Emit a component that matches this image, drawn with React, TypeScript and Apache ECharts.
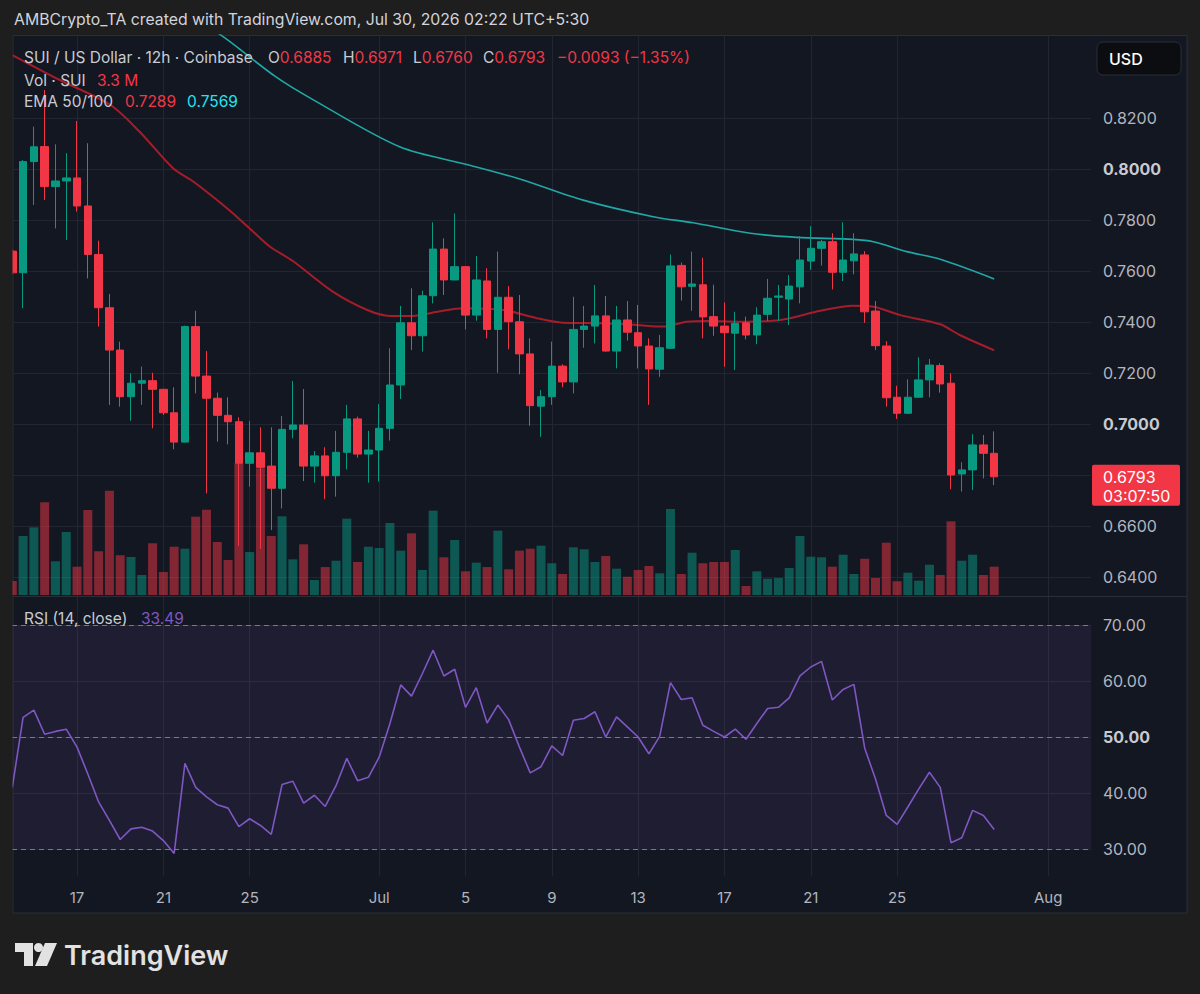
import React, { useEffect, useRef } from "react";
import * as echarts from "echarts";

// ---- Data (12h bars, Jun 14 05:30 → Jul 29 17:30, UTC+5:30) ----
const OPEN = [
  0.7678, 0.7593, 0.8029, 0.8088, 0.7931, 0.7953, 0.7965, 0.7855, 0.7665, 0.7456,
  0.729, 0.7107, 0.716, 0.717, 0.7136, 0.7044, 0.6929, 0.7382, 0.7188, 0.7101,
  0.7034, 0.7009, 0.6846, 0.6887, 0.6835, 0.6748, 0.6979, 0.6996, 0.6835, 0.6875,
  0.6797, 0.6889, 0.702, 0.6882, 0.6898, 0.6983, 0.7153, 0.7397, 0.7346, 0.7503,
  0.7686, 0.7565, 0.7617, 0.7427, 0.7561, 0.7371, 0.7497, 0.7401, 0.7275, 0.707,
  0.7107, 0.7227, 0.7165, 0.7371, 0.7384, 0.7424, 0.7286, 0.7408, 0.7358, 0.7306,
  0.7215, 0.7297, 0.7622, 0.754, 0.7546, 0.7421, 0.7384, 0.7356, 0.7397, 0.7349,
  0.743, 0.7497, 0.749, 0.7538, 0.7639, 0.7689, 0.7715, 0.7595, 0.764, 0.7663,
  0.7443, 0.7306, 0.7105, 0.7042, 0.7105, 0.7173, 0.7229, 0.716, 0.6804, 0.682,
  0.6918, 0.6885,
];
const CLOSE = [
  0.7593, 0.8029, 0.8087, 0.7931, 0.7953, 0.7965, 0.7855, 0.7665, 0.7456, 0.729,
  0.7107, 0.716, 0.717, 0.7136, 0.7044, 0.6929, 0.7382, 0.7188, 0.7101, 0.7034,
  0.7009, 0.6846, 0.6887, 0.683, 0.6748, 0.6979, 0.6996, 0.6835, 0.6875, 0.6797,
  0.6889, 0.702, 0.6882, 0.6898, 0.6983, 0.7153, 0.7397, 0.7346, 0.7503, 0.7686,
  0.7565, 0.7617, 0.7427, 0.7565, 0.7371, 0.7497, 0.7401, 0.7275, 0.7072, 0.7107,
  0.7227, 0.7165, 0.7371, 0.7384, 0.7424, 0.7286, 0.7408, 0.736, 0.7306, 0.7216,
  0.7299, 0.762, 0.7538, 0.7549, 0.742, 0.7384, 0.7358, 0.7395, 0.7349, 0.7427,
  0.7493, 0.7502, 0.7541, 0.7643, 0.7689, 0.7715, 0.7595, 0.7643, 0.7667, 0.744,
  0.7307, 0.7103, 0.7042, 0.7105, 0.7173, 0.7231, 0.7157, 0.68, 0.682, 0.6918,
  0.6885, 0.6793,
];
const LOW = [
  0.7588, 0.7454, 0.7859, 0.7878, 0.7767, 0.7722, 0.7833, 0.7571, 0.7382, 0.7075,
  0.7068, 0.7013, 0.7075, 0.6983, 0.7035, 0.6901, 0.6927, 0.712, 0.6728, 0.6931,
  0.692, 0.6522, 0.6754, 0.651, 0.6584, 0.6669, 0.6944, 0.6776, 0.677, 0.6705,
  0.6715, 0.6822, 0.6868, 0.677, 0.6774, 0.6935, 0.7098, 0.729, 0.7284, 0.7473,
  0.7506, 0.7563, 0.7371, 0.7405, 0.7336, 0.7201, 0.7293, 0.7195, 0.6993, 0.695,
  0.7075, 0.7144, 0.712, 0.7299, 0.7316, 0.7284, 0.7218, 0.7327, 0.7218, 0.7075,
  0.7185, 0.7294, 0.7484, 0.7444, 0.7336, 0.7346, 0.7225, 0.7212, 0.7332, 0.7313,
  0.7404, 0.7404, 0.7388, 0.7473, 0.7604, 0.7621, 0.7528, 0.7561, 0.7587, 0.7397,
  0.729, 0.7068, 0.702, 0.7039, 0.7103, 0.7105, 0.7123, 0.6744, 0.6735, 0.6741,
  0.6787, 0.676,
];
const HIGH = [
  0.7684, 0.8035, 0.8166, 0.831, 0.8097, 0.8062, 0.8188, 0.8101, 0.7719, 0.751,
  0.7323, 0.7199, 0.7225, 0.7201, 0.7138, 0.7144, 0.7386, 0.7444, 0.7286, 0.7123,
  0.7105, 0.7026, 0.7012, 0.6987, 0.6987, 0.7031, 0.7169, 0.7137, 0.6894, 0.6909,
  0.6973, 0.7075, 0.7029, 0.6973, 0.7078, 0.7297, 0.7463, 0.7532, 0.7523, 0.7791,
  0.7728, 0.7826, 0.7619, 0.7659, 0.7611, 0.7676, 0.7541, 0.7506, 0.7336, 0.7133,
  0.7323, 0.7234, 0.7499, 0.7463, 0.7545, 0.7502, 0.7463, 0.7482, 0.7467, 0.7336,
  0.7349, 0.7665, 0.7633, 0.7676, 0.7652, 0.7546, 0.7477, 0.744, 0.7421, 0.7458,
  0.7569, 0.7545, 0.7584, 0.7737, 0.7776, 0.7722, 0.7748, 0.7791, 0.7748, 0.7678,
  0.7482, 0.7325, 0.715, 0.7175, 0.7262, 0.7255, 0.7238, 0.7199, 0.685, 0.696,
  0.6957, 0.6971,
];
// Volume in millions of SUI
const VOLUME_M = [
  1.63, 6.88, 7.89, 10.81, 3.93, 7.35, 3.3, 9.91, 5.1, 12.16,
  4.63, 4.43, 2.33, 6.03, 2.68, 5.63, 5.4, 9.13, 9.95, 6.18,
  4.08, 15.36, 5.01, 14.77, 6.88, 9.18, 4.16, 5.91, 1.75, 3.26,
  4.0, 8.9, 3.85, 5.63, 5.48, 8.4, 5.17, 7.19, 2.92, 9.83,
  4.4, 6.41, 2.76, 3.77, 3.26, 7.5, 3.0, 5.17, 5.4, 5.75,
  3.7, 2.45, 5.56, 5.33, 3.85, 4.55, 3.07, 2.13, 2.92, 3.38,
  2.53, 10.03, 2.45, 4.93, 3.7, 3.85, 3.85, 5.25, 1.05, 2.76,
  1.9, 1.98, 3.15, 6.88, 4.47, 4.4, 3.3, 4.7, 2.45, 4.23,
  1.98, 6.1, 1.6, 2.6, 1.67, 3.53, 2.33, 8.59, 4.0, 4.7,
  2.33, 3.3,
];
const RSI = [
  41.0, 53.5, 54.8, 50.5, 51.0, 51.4, 48.2, 43.4, 38.4, 35.1,
  31.7, 33.6, 33.9, 33.2, 31.5, 29.2, 45.3, 41.0, 39.3, 37.9,
  37.3, 34.0, 35.4, 34.2, 32.6, 41.5, 42.1, 38.2, 39.6, 37.6,
  41.3, 46.2, 42.2, 42.8, 46.4, 52.4, 59.3, 57.3, 61.3, 65.5,
  60.9, 62.1, 55.3, 58.8, 52.5, 55.7, 53.1, 48.2, 43.6, 44.7,
  48.4, 46.7, 53.0, 53.3, 54.5, 50.0, 53.6, 51.8, 50.0, 47.0,
  50.1, 59.7, 56.7, 57.0, 52.1, 51.0, 50.0, 51.4, 49.6, 52.4,
  55.1, 55.3, 57.0, 60.9, 62.5, 63.5, 56.6, 58.5, 59.4, 48.0,
  42.5, 36.0, 34.4, 37.5, 40.7, 43.7, 41.0, 31.1, 32.0, 36.9,
  36.0, 33.49,
];
// EMA read points: [bar index, price]
const EMA50_PTS = [
  [0, 0.8447], [4.4, 0.8349], [9.1, 0.8251], [11.8, 0.8146], [14.9, 0.8003],
  [16.8, 0.795], [19.9, 0.7846], [22.0, 0.7767], [23.9, 0.7695], [26.0, 0.7639],
  [29.7, 0.7519], [32.9, 0.7447], [35.0, 0.7424], [37.1, 0.7424], [39.4, 0.744],
  [41.8, 0.7454], [45.5, 0.7447], [48.6, 0.7415], [51.0, 0.7397], [54.7, 0.7395],
  [57.9, 0.7388], [60.3, 0.7382], [62.5, 0.7401], [64.4, 0.7404], [67.4, 0.7401],
  [71.2, 0.7408], [74.9, 0.7444], [77.9, 0.7464], [79.8, 0.746], [82.3, 0.7427],
  [86.0, 0.7391], [87.8, 0.7349], [91, 0.7289],
];
const EMA100_PTS = [
  [0, 0.909], [10, 0.88], [19.7, 0.8514], [24.4, 0.8362], [27.9, 0.8271],
  [35.9, 0.8087], [42.4, 0.8015], [47.1, 0.796], [52.9, 0.7878], [59.4, 0.7813],
  [63.1, 0.7789], [68.4, 0.7748], [72.7, 0.7732], [77.9, 0.7724], [79.8, 0.7715],
  [82.9, 0.7676], [86.0, 0.7646], [91, 0.7569],
];
const DAY_TICKS = [6, 14, 22, 34, 42, 50, 58, 66, 74, 82, 96];
const DAY_LABELS = ["17", "21", "25", "Jul", "5", "9", "13", "17", "21", "25", "Aug"];
const PRICE_TICKS = [0.64, 0.66, 0.68, 0.7, 0.72, 0.74, 0.76, 0.78, 0.8, 0.82];
const RSI_TICKS = [30, 40, 50, 60, 70];
const LAST_CLOSE = 0.6793;

// ---- Styling ----
const FONT = 'Inter, "Noto Sans", sans-serif';
const OUTER_BG = "#1e1e1e";
const PANEL_BG = "#131722";
const GRID_LINE = "#232632";
const AXIS_TEXT = "#b2b5be";
const LEGEND_TEXT = "#c9cbd1";
const UP = "#089981";
const DOWN = "#f23645";
const X_MIN = -0.028;
const X_MAX = 99.972;
const PRICE_MIN = 0.63255;
const PRICE_MAX = 0.85255;

function xAxisFor(gridIndex: number, withLabels: boolean, visible = true) {
  return {
    type: "value",
    gridIndex,
    min: X_MIN,
    max: X_MAX,
    show: visible,
    axisLine: { show: false },
    axisTick: { show: false, customValues: DAY_TICKS },
    axisLabel: withLabels
      ? {
          show: true,
          customValues: DAY_TICKS,
          margin: 14,
          color: AXIS_TEXT,
          fontSize: 15,
          fontFamily: FONT,
          formatter: (v: number) => {
            const k = DAY_TICKS.indexOf(Math.round(v));
            return k >= 0 ? DAY_LABELS[k] : "";
          },
        }
      : { show: false },
    splitLine: { show: visible, lineStyle: { color: GRID_LINE, width: 1 } },
  };
}

function buildOption() {
  const candleData = OPEN.map((o, i) => [i, o, CLOSE[i], LOW[i], HIGH[i]]);
  const volData = VOLUME_M.map((v, i) => ({
    value: [i, v],
    itemStyle: {
      color: CLOSE[i] >= OPEN[i] ? "rgba(8,153,129,0.5)" : "rgba(242,54,69,0.5)",
    },
  }));
  return {
    animation: false,
    backgroundColor: OUTER_BG,
    textStyle: { fontFamily: FONT },
    grid: [
      { left: 12, top: 35, width: 1079, height: 561, outerBoundsMode: "none" },
      { left: 12, top: 395, width: 1079, height: 200, outerBoundsMode: "none" },
      { left: 12, top: 597, width: 1079, height: 279, outerBoundsMode: "none" },
    ],
    xAxis: [xAxisFor(0, false), xAxisFor(1, false, false), xAxisFor(2, true)],
    yAxis: [
      {
        type: "value",
        gridIndex: 0,
        position: "right",
        min: PRICE_MIN,
        max: PRICE_MAX,
        axisLine: { show: false },
        axisTick: { show: false, customValues: PRICE_TICKS },
        splitLine: { show: true, lineStyle: { color: GRID_LINE, width: 1 } },
        axisLabel: {
          customValues: PRICE_TICKS,
          margin: 12,
          fontSize: 16,
          color: AXIS_TEXT,
          fontFamily: FONT,
          formatter: (v: number) => {
            const bold = Math.abs(v - 0.8) < 1e-6 || Math.abs(v - 0.7) < 1e-6;
            return bold ? `{b|${v.toFixed(4)}}` : `{n|${v.toFixed(4)}}`;
          },
          rich: {
            b: { fontWeight: "bold", fontSize: 16, color: "#c8cad0", fontFamily: FONT },
            n: { fontSize: 16, color: AXIS_TEXT, fontFamily: FONT },
          },
        },
      },
      {
        type: "value",
        gridIndex: 1,
        min: 0,
        max: 23.32,
        show: false,
        splitLine: { show: false },
      },
      {
        type: "value",
        gridIndex: 2,
        position: "right",
        min: 25.18,
        max: 75.0,
        axisLine: { show: false },
        axisTick: { show: false, customValues: RSI_TICKS },
        splitLine: { show: true, lineStyle: { color: GRID_LINE, width: 1 } },
        axisLabel: {
          customValues: RSI_TICKS,
          margin: 12,
          fontSize: 16,
          color: AXIS_TEXT,
          fontFamily: FONT,
          formatter: (v: number) =>
            Math.abs(v - 50) < 1e-6 ? `{b|${v.toFixed(2)}}` : `{n|${v.toFixed(2)}}`,
          rich: {
            b: { fontWeight: "bold", fontSize: 16, color: "#c8cad0", fontFamily: FONT },
            n: { fontSize: 16, color: AXIS_TEXT, fontFamily: FONT },
          },
        },
      },
    ],
    series: [
      {
        name: "Volume",
        type: "bar",
        xAxisIndex: 1,
        yAxisIndex: 1,
        data: volData,
        barWidth: 9,
        z: 1,
        silent: true,
      },
      {
        name: "EMA 50",
        type: "line",
        xAxisIndex: 0,
        yAxisIndex: 0,
        data: EMA50_PTS,
        symbol: "none",
        smooth: 0.3,
        lineStyle: { color: "#a51d29", width: 2 },
        z: 2,
        silent: true,
      },
      {
        name: "EMA 100",
        type: "line",
        xAxisIndex: 0,
        yAxisIndex: 0,
        data: EMA100_PTS,
        symbol: "none",
        smooth: 0.3,
        lineStyle: { color: "#20a8a6", width: 1.6 },
        z: 2,
        silent: true,
      },
      {
        name: "SUI",
        type: "candlestick",
        xAxisIndex: 0,
        yAxisIndex: 0,
        data: candleData,
        encode: { x: 0, y: [1, 2, 3, 4] },
        barWidth: 8,
        z: 3,
        silent: true,
        itemStyle: {
          color: UP,
          color0: DOWN,
          borderColor: UP,
          borderColor0: DOWN,
          borderColorDoji: UP,
          borderWidth: 1,
        },
      },
      {
        name: "RSI",
        type: "line",
        xAxisIndex: 2,
        yAxisIndex: 2,
        data: RSI.map((r, i) => [i, r]),
        symbol: "none",
        lineStyle: { color: "#7e57c2", width: 1.6 },
        z: 3,
        silent: true,
        markArea: {
          silent: true,
          itemStyle: { color: "rgba(126,87,194,0.1)" },
          data: [[{ yAxis: 30 }, { yAxis: 70 }]],
        },
        markLine: {
          silent: true,
          symbol: ["none", "none"],
          label: { show: false },
          lineStyle: { color: "#787b86", type: [5, 4], width: 1 },
          data: [{ yAxis: 70 }, { yAxis: 50 }, { yAxis: 30 }],
        },
      },
    ],
  };
}

function txt(x: number, y: number, text: string, rich: any, size = 15.5, extra: any = {}) {
  return {
    type: "text",
    x,
    y,
    z: 100,
    silent: true,
    style: {
      text,
      rich,
      fill: LEGEND_TEXT,
      fontSize: size,
      fontFamily: FONT,
      align: "left",
      verticalAlign: "middle",
      ...extra,
    },
  };
}

function buildGraphics(py: number) {
  const LS = 15.5;
  const richBase = {
    g: { fill: LEGEND_TEXT, fontSize: LS, fontFamily: FONT },
    r: { fill: DOWN, fontSize: LS, fontFamily: FONT },
    c: { fill: "#22e4f0", fontSize: LS, fontFamily: FONT },
    p: { fill: "#7e57c2", fontSize: LS, fontFamily: FONT },
  };
  return [
    // chart panel
    {
      type: "rect",
      z: -10,
      silent: true,
      shape: { x: 13, y: 35.5, width: 1174, height: 877.5 },
      style: { fill: PANEL_BG, stroke: "#2a2e39", lineWidth: 1 },
    },
    // cover for the overhang left of the panel
    {
      type: "rect",
      z: 90,
      silent: true,
      shape: { x: 0, y: 30, width: 12.5, height: 880 },
      style: { fill: OUTER_BG },
    },
    // pane separator
    {
      type: "line",
      z: 90,
      silent: true,
      shape: { x1: 13, y1: 596.5, x2: 1187, y2: 596.5 },
      style: { stroke: "#2a2e39", lineWidth: 1 },
    },
    // header
    txt(14, 19, "AMBCrypto_TA created with TradingView.com, Jul 30, 2026 02:22 UTC+5:30", undefined, 15.8, {
      fill: "#d1d4dc",
    }),
    // legend line 1
    txt(24, 57, "{g|SUI / US Dollar · 12h · Coinbase}", richBase),
    txt(268, 57, "{g|O}{r|0.6885}", richBase),
    txt(343, 57, "{g|H}{r|0.6971}", richBase),
    txt(413, 57, "{g|L}{r|0.6760}", richBase),
    txt(483, 57, "{g|C}{r|0.6793}", richBase),
    txt(557, 57, "{r|−0.0093 (−1.35%)}", richBase),
    // legend line 2
    txt(24, 80, "{g|Vol · SUI}", richBase),
    txt(97, 80, "{r|3.3 M}", richBase),
    // legend line 3
    txt(24, 101, "{g|EMA 50/100}", richBase),
    txt(125, 101, "{r|0.7289}", richBase),
    txt(187, 101, "{c|0.7569}", richBase),
    // RSI legend
    txt(24, 618, "{g|RSI (14, close)}", richBase),
    txt(141, 618, "{p|33.49}", richBase),
    // USD box
    {
      type: "rect",
      z: 95,
      silent: true,
      shape: { x: 1097, y: 42, width: 84, height: 33, r: 6 },
      style: { fill: "#0c0d10", stroke: "#2a2e39", lineWidth: 1 },
    },
    txt(1109, 58.5, "USD", undefined, 16, { fill: "#ffffff", fontWeight: 500 }),
    // last price label
    {
      type: "rect",
      z: 95,
      silent: true,
      shape: { x: 1092, y: py - 12, width: 88, height: 41, r: 2 },
      style: { fill: DOWN },
    },
    txt(1103, py, "0.6793", undefined, 16, { fill: "#ffffff" }),
    txt(1103, py + 19, "03:07:50", undefined, 16, { fill: "#ffffff" }),
    // TradingView logo
    {
      type: "polygon",
      z: 95,
      silent: true,
      shape: {
        points: [
          [15, 943],
          [33, 943],
          [33, 966],
          [24, 966],
          [24, 952],
          [15, 952],
        ],
      },
      style: { fill: "#e2e2e2" },
    },
    {
      type: "circle",
      z: 95,
      silent: true,
      shape: { cx: 38.5, cy: 947.5, r: 4.5 },
      style: { fill: "#e2e2e2" },
    },
    {
      type: "polygon",
      z: 95,
      silent: true,
      shape: {
        points: [
          [45, 943],
          [57, 943],
          [47, 966],
          [35, 966],
        ],
      },
      style: { fill: "#e2e2e2" },
    },
    txt(64, 955, "TradingView", undefined, 27, { fill: "#e2e2e2", fontWeight: 600 }),
  ];
}

export default function App() {
  const ref = useRef<HTMLDivElement>(null);
  useEffect(() => {
    if (!ref.current) return;
    const chart = echarts.init(ref.current, null, { renderer: "svg" });
    chart.setOption(buildOption() as any);
    let py = chart.convertToPixel({ yAxisIndex: 0 }, LAST_CLOSE) as unknown as number;
    if (typeof py !== "number" || !isFinite(py)) py = 476.7;
    chart.setOption({ graphic: { elements: buildGraphics(py) } } as any);
    return () => chart.dispose();
  }, []);
  return (
    <div
      ref={ref}
      style={{ position: "fixed", left: 0, top: 0, width: 1200, height: 994 }}
    />
  );
}
